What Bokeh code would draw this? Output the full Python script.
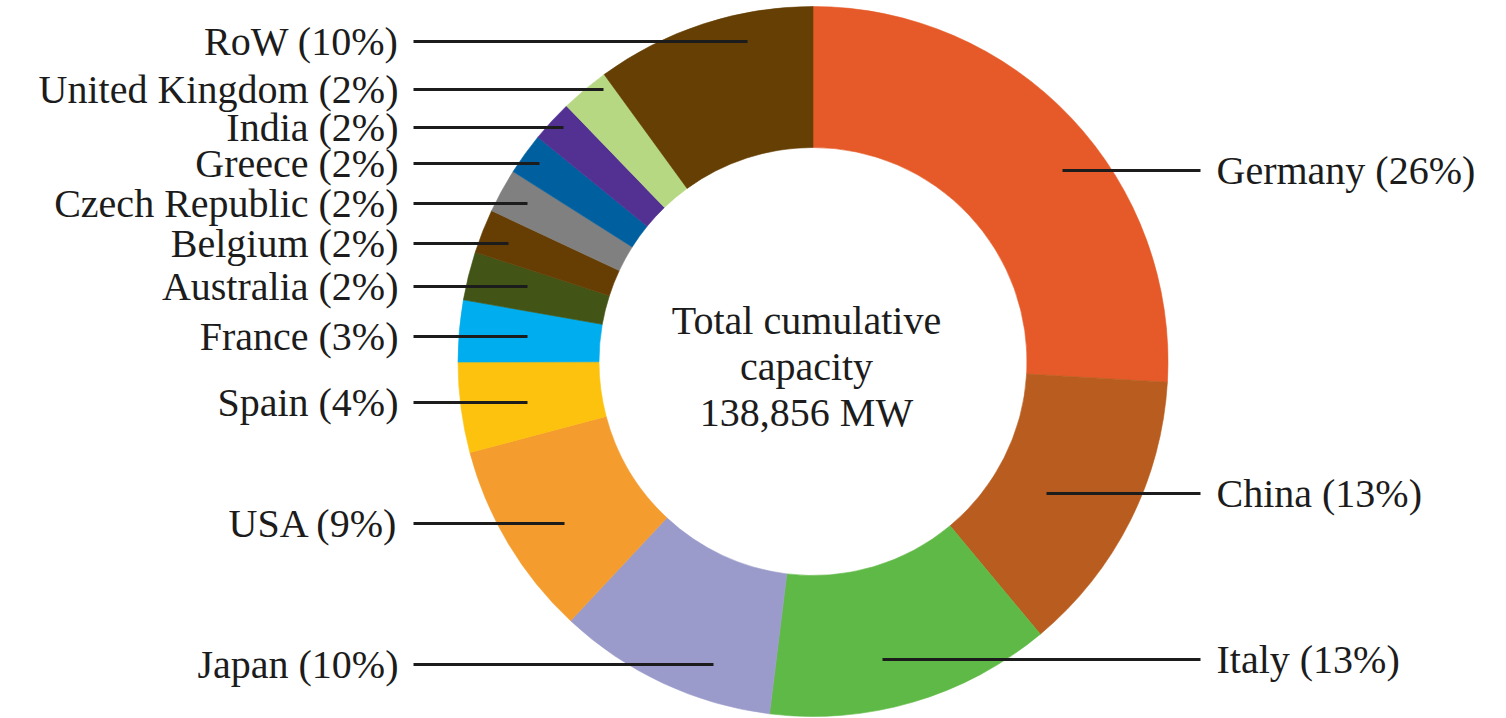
import numpy as np
from bokeh.plotting import figure
from bokeh.models import Range1d, ColumnDataSource
from bokeh.core.properties import value
from bokeh.embed import file_html
from bokeh.resources import INLINE

# ---------------- data ----------------
countries = ["Germany", "China", "Italy", "Japan", "USA", "Spain", "France",
             "Australia", "Belgium", "Czech Republic", "Greece", "India",
             "United Kingdom", "RoW"]
shares = [25.9, 13.0, 13.0, 10.0, 8.9, 4.1, 2.8, 2.2, 2.0, 2.0, 1.9, 1.9, 2.2, 10.0]
label_pct = [26, 13, 13, 10, 9, 4, 3, 2, 2, 2, 2, 2, 2, 10]
colors = ["#E55A28", "#B85C1F", "#5FB946", "#9B9BCB", "#F59C2E", "#FDC20E",
          "#00ADEF", "#435516", "#663E04", "#808080", "#00609F", "#523192",
          "#B7D883", "#653F03"]
total_mw = "138,856"

# ---------------- layout (screen px, y down) ----------------
W, H = 1506, 718
CX, CY = 812.5, 361
R_OUT, R_IN = 355, 214
side = ["R", "R", "R", "L", "L", "L", "L", "L", "L", "L", "L", "L", "L", "L"]
label_y = [170, 493, 659, 664, 523, 402, 336, 286, 243, 203, 163, 127, 89, 41]
leader_end_x = [1062, 1046, 882, 713, 564, 527, 527, 527, 508, 527, 539, 563, 603, 747]
LEFT_LINE_X, LEFT_TEXT_X = 413, 398
RIGHT_LINE_X, RIGHT_TEXT_X = 1200, 1216
FONT = value("Liberation Serif")
FSIZE = "40px"
INK = "#1c1c1c"

p = figure(width=W, height=H, x_range=Range1d(0, W), y_range=Range1d(0, H),
           output_backend="svg", toolbar_location=None, min_border=0,
           x_axis_type=None, y_axis_type=None)
p.grid.visible = False
p.outline_line_color = None
p.background_fill_color = "white"
p.border_fill_color = "white"

frac = np.array(shares, dtype=float)
frac = frac / frac.sum()
cum_after = np.cumsum(frac)
cum_before = cum_after - frac
start = np.pi / 2 - 2 * np.pi * cum_after
end = np.pi / 2 - 2 * np.pi * cum_before

src = ColumnDataSource(dict(start=start, end=end, color=colors, name=countries))
p.annular_wedge(x=CX, y=H - CY, inner_radius=R_IN, outer_radius=R_OUT,
                start_angle="start", end_angle="end", fill_color="color",
                line_color="color", line_width=0.6, source=src)

# leader lines and labels
lx0, lx1, ly, lt = [], [], [], []
rx0, rx1, ry, rt = [], [], [], []
for c, pct, s, y, ex in zip(countries, label_pct, side, label_y, leader_end_x):
    txt = f"{c} ({pct}%)"
    if s == "L":
        lx0.append(LEFT_LINE_X); lx1.append(ex); ly.append(H - y); lt.append(txt)
    else:
        rx0.append(ex); rx1.append(RIGHT_LINE_X); ry.append(H - y); rt.append(txt)

p.segment(x0=lx0, y0=ly, x1=lx1, y1=ly, line_color=INK, line_width=2.8)
p.segment(x0=rx0, y0=ry, x1=rx1, y1=ry, line_color=INK, line_width=2.8)

p.text(x=[LEFT_TEXT_X] * len(lt), y=ly, text=lt, text_align="right",
       text_baseline="middle", text_font=FONT, text_font_size=FSIZE, text_color=INK)
p.text(x=[RIGHT_TEXT_X] * len(rt), y=ry, text=rt, text_align="left",
       text_baseline="middle", text_font=FONT, text_font_size=FSIZE, text_color=INK)

center_lines = ["Total cumulative", "capacity", f"{total_mw} MW"]
center_y = [320, 366, 412]
p.text(x=[806] * 3, y=[H - v for v in center_y], text=center_lines,
       text_align="center", text_baseline="middle", text_font=FONT,
       text_font_size=FSIZE, text_color=INK)

open("out.html", "w").write(file_html(p, INLINE))
